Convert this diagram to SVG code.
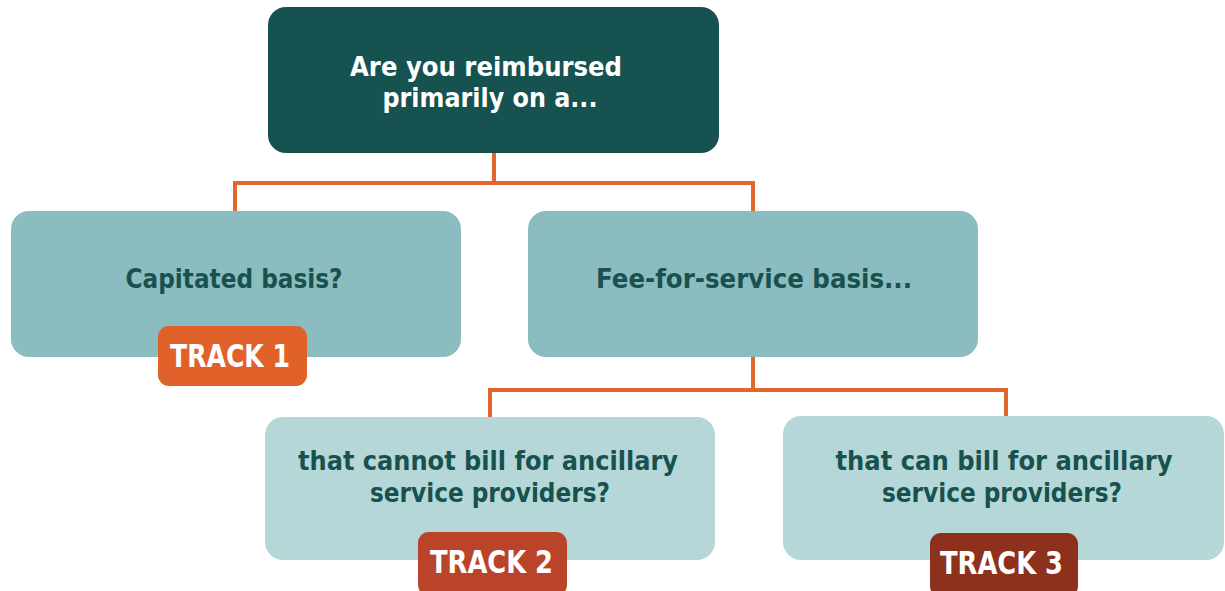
<svg xmlns="http://www.w3.org/2000/svg" width="1225" height="591" viewBox="0 0 1225 591">
<style>
.q{fill:#8bbcbf}
.l{fill:#b5d7d8}
.t{font-family:"DejaVu Sans","Liberation Sans",sans-serif;font-weight:bold;font-size:26px;fill:#17524f;text-anchor:middle}
.w{fill:#ffffff}
.k{font-family:"DejaVu Sans","Liberation Sans",sans-serif;font-weight:bold;font-size:32px;fill:#ffffff;text-anchor:middle}
.c{fill:none;stroke:#e2672b;stroke-width:4}
</style>
<rect width="1225" height="591" fill="#ffffff"/>
<g id="connectors">
<path class="c" d="M494 153 V183 M235 211 V183 H753 V211"/>
<path class="c" d="M753 357 V390 M490 417 V390 H1006 V416"/>
</g>
<g id="root">
<rect x="268" y="7" width="451" height="146" rx="18" fill="#16524f"/>
<text class="t w" x="486" y="76" textLength="272" lengthAdjust="spacingAndGlyphs">Are you reimbursed</text>
<text class="t w" x="490" y="107" textLength="215" lengthAdjust="spacingAndGlyphs">primarily on a...</text>
</g>
<g id="capitated">
<rect class="q" x="11" y="211" width="450" height="146" rx="18"/>
<text class="t" x="234" y="288" textLength="217" lengthAdjust="spacingAndGlyphs">Capitated basis?</text>
</g>
<g id="feeforservice">
<rect class="q" x="528" y="211" width="450" height="146" rx="18"/>
<text class="t" x="754" y="288" textLength="316" lengthAdjust="spacingAndGlyphs">Fee-for-service basis...</text>
</g>
<g id="cannot">
<rect class="l" x="265" y="417" width="450" height="143" rx="18"/>
<text class="t" x="488" y="470" textLength="380" lengthAdjust="spacingAndGlyphs">that cannot bill for ancillary</text>
<text class="t" x="490" y="502" textLength="240" lengthAdjust="spacingAndGlyphs">service providers?</text>
</g>
<g id="can">
<rect class="l" x="783" y="416" width="441" height="144" rx="18"/>
<text class="t" x="1004" y="470" textLength="337" lengthAdjust="spacingAndGlyphs">that can bill for ancillary</text>
<text class="t" x="1002" y="502" textLength="240" lengthAdjust="spacingAndGlyphs">service providers?</text>
</g>
<g id="track1">
<rect x="158" y="326" width="149" height="60" rx="11" fill="#e0622a"/>
<text class="k" x="230" y="367" textLength="120" lengthAdjust="spacingAndGlyphs">TRACK 1</text>
</g>
<g id="track2">
<rect x="418" y="532" width="149" height="64" rx="11" fill="#b94429"/>
<text class="k" x="491.5" y="573" textLength="123" lengthAdjust="spacingAndGlyphs">TRACK 2</text>
</g>
<g id="track3">
<rect x="930" y="533" width="148" height="64" rx="11" fill="#8d301c"/>
<text class="k" x="1001.5" y="574" textLength="123" lengthAdjust="spacingAndGlyphs">TRACK 3</text>
</g>
</svg>
